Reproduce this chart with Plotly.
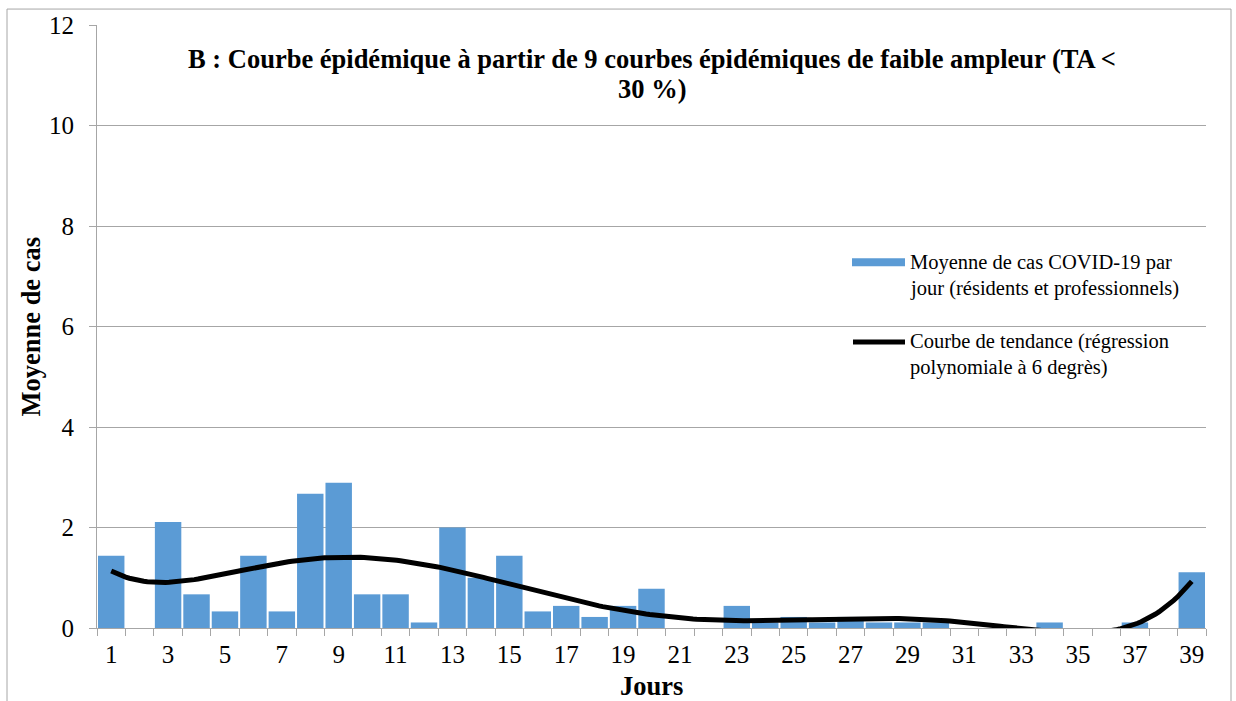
import numpy as np
import plotly.graph_objects as go

# Jours 1..39 et moyenne de cas par jour (9 courbes)
jours = list(range(1, 40))
moyenne_cas = [1.44, 0, 2.11, 0.67, 0.33, 1.44, 0.33, 2.67, 2.89, 0.67,
               0.67, 0.11, 2.0, 1.0, 1.44, 0.33, 0.44, 0.22, 0.44, 0.78,
               0, 0, 0.44, 0.11, 0.22, 0.11, 0.22, 0.11, 0.11, 0.11,
               0, 0, 0, 0.11, 0, 0, 0.11, 0, 1.11]
y_ticks = [0, 2, 4, 6, 8, 10, 12]
x_ticks = list(range(1, 40, 2))

# tendance : régression polynomiale de degré 6
coefs = np.polyfit(jours, moyenne_cas, 6)
x_fit = np.linspace(1, 39, 300)
y_fit = np.polyval(coefs, x_fit)

FONT = "Liberation Serif"
BLUE = "#5B9BD5"
GRID = "#A6A6A6"

fig = go.Figure()
fig.add_trace(go.Bar(x=jours, y=moyenne_cas, marker=dict(color=BLUE, line=dict(width=0))))
fig.add_trace(go.Scatter(x=x_fit, y=y_fit, mode="lines", line=dict(color="black", width=5)))

# pixel -> paper helpers (plot area 97..1206 x 23..628)
def px(x):
    return (x - 97) / 1109

def py(y):
    return (628 - y) / 605

annotations = [
    dict(text="<b>B : Courbe épidémique à partir de 9 courbes épidémiques de faible ampleur (TA <</b>",
         x=0.5, y=py(57), font=dict(size=26.5)),
    dict(text="<b>30 %)</b>", x=0.5, y=py(87), font=dict(size=26.5)),
    dict(text="<b>Moyenne de cas</b>", x=px(30), y=0.5, textangle=-90, font=dict(size=26.5)),
    dict(text="<b>Jours</b>", x=0.5, y=py(686), font=dict(size=26.5)),
    dict(text="Moyenne de cas COVID-19 par", x=px(908), y=py(261), xanchor="left", font=dict(size=20.5)),
    dict(text="jour (résidents et professionnels)", x=px(908), y=py(287), xanchor="left", font=dict(size=20.5)),
    dict(text="Courbe de tendance (régression", x=px(908), y=py(341), xanchor="left", font=dict(size=20.5)),
    dict(text="polynomiale à 6 degrès)", x=px(908), y=py(367), xanchor="left", font=dict(size=20.5)),
]
for a in annotations:
    a.setdefault("xanchor", "center")
    a.update(xref="paper", yref="paper", yanchor="middle", showarrow=False)
    a["font"].update(family=FONT, color="black")

shapes = [
    dict(type="rect", xref="paper", yref="paper", x0=px(852), x1=px(905), y0=py(265), y1=py(257),
         fillcolor=BLUE, line=dict(width=0)),
    dict(type="line", xref="paper", yref="paper", x0=px(853), x1=px(905), y0=py(341), y1=py(341),
         line=dict(color="black", width=5)),
    dict(type="rect", xref="paper", yref="paper", x0=px(7), x1=px(1231), y0=py(720), y1=py(7),
         line=dict(color=GRID, width=1)),
]

fig.update_layout(
    width=1236, height=701,
    margin=dict(l=97, r=30, t=23, b=73),
    plot_bgcolor="white", paper_bgcolor="white",
    showlegend=False,
    bargap=0.07,
    font=dict(family=FONT, color="black", size=25),
    annotations=annotations,
    shapes=shapes,
    xaxis=dict(range=[0.5, 39.5], tickmode="array", tickvals=x_ticks, ticks="",
               showgrid=False, showline=True, linecolor=GRID, linewidth=1,
               minor=dict(tick0=0.5, dtick=1, ticks="outside", ticklen=7, tickcolor=GRID, showgrid=False),
               tickfont=dict(size=25), ticklabelstandoff=4, zeroline=False),
    yaxis=dict(range=[0, 12], tickvals=y_ticks, ticks="outside", ticklen=7, tickcolor=GRID,
               showgrid=True, gridcolor=GRID, gridwidth=1, showline=True, linecolor=GRID,
               linewidth=1, zeroline=False, tickfont=dict(size=25), ticklabelstandoff=10),
)

# page body has an 8px default margin, remove it so the figure sits at (0, 0)
fig.write_html("out.html", config={"displayModeBar": False},
               post_script="document.body.style.margin='0';document.body.style.overflow='hidden';")
